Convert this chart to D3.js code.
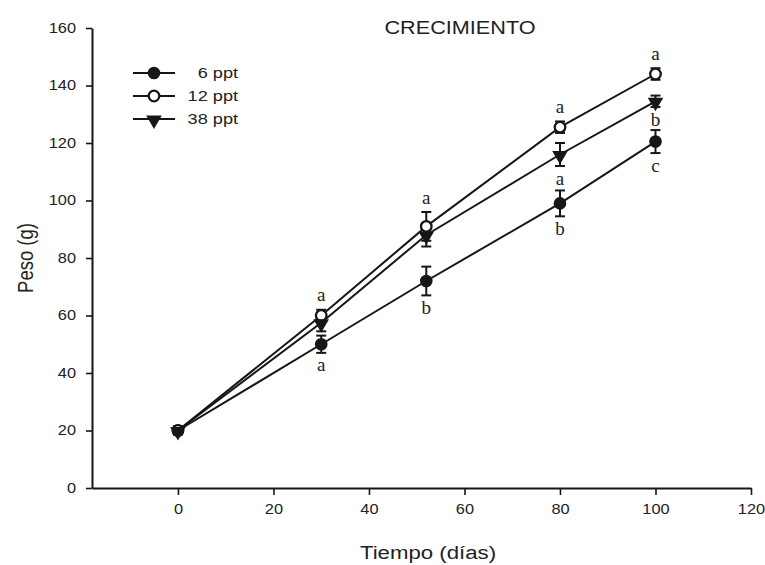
<!DOCTYPE html>
<html>
<head>
<meta charset="utf-8">
<script src="https://cdn.jsdelivr.net/npm/d3@7"></script>
<style>
  html, body { margin: 0; padding: 0; background: #fff; }
  svg { display: block; }
</style>
</head>
<body>
<svg id="chart" width="765" height="565"></svg>
<script>
// Growth (weight in g) over time (days) at three salinities
const days    = [0, 30, 52, 80, 100];
const ppt6    = [20, 50, 72, 99, 120.5];
const err6    = [1.5, 3, 5, 4.5, 4];
const ppt12   = [20, 60, 91, 125.5, 144];
const err12   = [1, 2, 5, 2, 2];
const ppt38   = [20, 57.5, 88, 116, 134.5];
const err38   = [1, 3, 4, 4, 2];
const seriesNames = ["6 ppt", "12 ppt", "38 ppt"];

const xTicks = [0, 20, 40, 60, 80, 100, 120];
const yTicks = [0, 20, 40, 60, 80, 100, 120, 140, 160];

// Significance letters: day, letter, series it belongs to, side of the mark
const letterDays   = [30, 30, 52, 52, 80, 80, 80, 100, 100, 100];
const letterTexts  = ["a", "a", "a", "b", "a", "a", "b", "a", "b", "c"];
const letterSeries = ["12 ppt", "6 ppt", "12 ppt", "6 ppt", "12 ppt", "38 ppt", "6 ppt", "12 ppt", "38 ppt", "6 ppt"];
const letterSides  = ["above", "below", "above", "below", "above", "below", "below", "above", "below", "below"];

const series = [
  { name: seriesNames[0], values: ppt6,  errs: err6,  shape: "filled" },
  { name: seriesNames[1], values: ppt12, errs: err12, shape: "open" },
  { name: seriesNames[2], values: ppt38, errs: err38, shape: "triangle" }
];

const svg = d3.select("#chart");
const ink = "#161616";
const textInk = "#222";
const sx = 1.17; // glyphs are set slightly wide

const x = d3.scaleLinear().domain([-18, 120]).range([92, 751]);
const y = d3.scaleLinear().domain([0, 160]).range([488, 28]);

// Axes
const xAxis = d3.axisBottom(x).tickValues(xTicks).tickSize(7).tickSizeOuter(0).tickPadding(9);
const yAxis = d3.axisLeft(y).tickValues(yTicks).tickSize(6).tickSizeOuter(0).tickPadding(10);

const gx = svg.append("g").attr("transform", `translate(0,${y(0)})`).call(xAxis);
const gy = svg.append("g").attr("transform", `translate(${x(-18)},0)`).call(yAxis);

[gx, gy].forEach(g => {
  g.select(".domain").attr("stroke", ink).attr("stroke-width", 2);
  g.selectAll(".tick line").attr("stroke", ink).attr("stroke-width", 1.6);
  g.selectAll(".tick text")
    .attr("fill", textInk)
    .attr("font-family", "Liberation Sans, Arial, sans-serif")
    .attr("font-size", 14);
});
gx.selectAll(".tick text").attr("transform", `scale(${sx},1)`);
gy.selectAll(".tick text").each(function () {
  const t = d3.select(this);
  const tx = +t.attr("x");
  t.attr("x", 0).attr("transform", `translate(${tx},0) scale(${sx},1)`);
});

// Axis titles and chart title
function label(txt, cx, cy, size) {
  svg.append("text")
    .attr("transform", `translate(${cx},${cy}) scale(${sx},1)`)
    .attr("text-anchor", "middle")
    .attr("dominant-baseline", "central")
    .attr("font-family", "Liberation Sans, Arial, sans-serif")
    .attr("font-size", size)
    .attr("fill", textInk)
    .text(txt);
}
label("CRECIMIENTO", 460, 28, 18.5);
label("Tiempo (días)", 428, 552, 19);
svg.append("text")
  .attr("transform", `translate(25,258) rotate(-90) scale(1,${sx})`)
  .attr("text-anchor", "middle")
  .attr("dominant-baseline", "central")
  .attr("font-family", "Liberation Sans, Arial, sans-serif")
  .attr("font-size", 18.5)
  .attr("fill", textInk)
  .text("Peso (g)");

// Marker drawing
function drawMarker(g, shape, cx, cy) {
  if (shape === "filled") {
    g.append("circle").attr("cx", cx).attr("cy", cy).attr("r", 6.3).attr("fill", ink);
  } else if (shape === "open") {
    g.append("circle").attr("cx", cx).attr("cy", cy).attr("r", 5.3).attr("fill", "#fff")
      .attr("stroke", ink).attr("stroke-width", 2.3);
  } else {
    const tri = d3.symbol().type(d3.symbolTriangle).size(105);
    g.append("path").attr("d", tri()).attr("fill", ink)
      .attr("transform", `translate(${cx},${cy + 1}) rotate(180)`);
  }
}

const plot = svg.append("g");
const line = d3.line().x(d => x(d[0])).y(d => y(d[1]));

// Lines first, then error bars and markers on top
series.forEach(s => {
  plot.append("path")
    .attr("d", line(days.map((d, i) => [d, s.values[i]])))
    .attr("fill", "none").attr("stroke", ink).attr("stroke-width", 2);
});

series.forEach(s => {
  const g = plot.append("g");
  days.forEach((d, i) => {
    const cx = x(d), lo = y(s.values[i] - s.errs[i]), hi = y(s.values[i] + s.errs[i]);
    g.append("line").attr("x1", cx).attr("x2", cx).attr("y1", lo).attr("y2", hi)
      .attr("stroke", ink).attr("stroke-width", 2);
    [lo, hi].forEach(v => g.append("line").attr("x1", cx - 5).attr("x2", cx + 5)
      .attr("y1", v).attr("y2", v).attr("stroke", ink).attr("stroke-width", 2));
  });
});

series.forEach(s => {
  const g = plot.append("g");
  days.forEach((d, i) => drawMarker(g, s.shape, x(d), y(s.values[i])));
});

// Significance letters
letterDays.forEach((d, k) => {
  const s = series.find(q => q.name === letterSeries[k]);
  const i = days.indexOf(d);
  const above = letterSides[k] === "above";
  const end = above ? y(s.values[i] + s.errs[i]) : y(s.values[i] - s.errs[i]);
  plot.append("text")
    .attr("x", x(d))
    .attr("y", above ? end - 15 : end + 12)
    .attr("text-anchor", "middle")
    .attr("dominant-baseline", "central")
    .attr("font-family", "Liberation Serif, Times New Roman, serif")
    .attr("font-size", 19)
    .attr("fill", textInk)
    .text(letterTexts[k]);
});

// Legend
const legend = svg.append("g");
series.forEach((s, k) => {
  const ly = 73 + k * 23;
  legend.append("line").attr("x1", 133).attr("x2", 175).attr("y1", ly).attr("y2", ly)
    .attr("stroke", ink).attr("stroke-width", 2);
  drawMarker(legend, s.shape, 154, ly);
  legend.append("text")
    .attr("transform", `translate(238,${ly}) scale(${sx},1)`)
    .attr("text-anchor", "end")
    .attr("dominant-baseline", "central")
    .attr("font-family", "Liberation Sans, Arial, sans-serif")
    .attr("font-size", 15.5)
    .attr("fill", textInk)
    .text(s.name);
});
</script>
</body>
</html>
